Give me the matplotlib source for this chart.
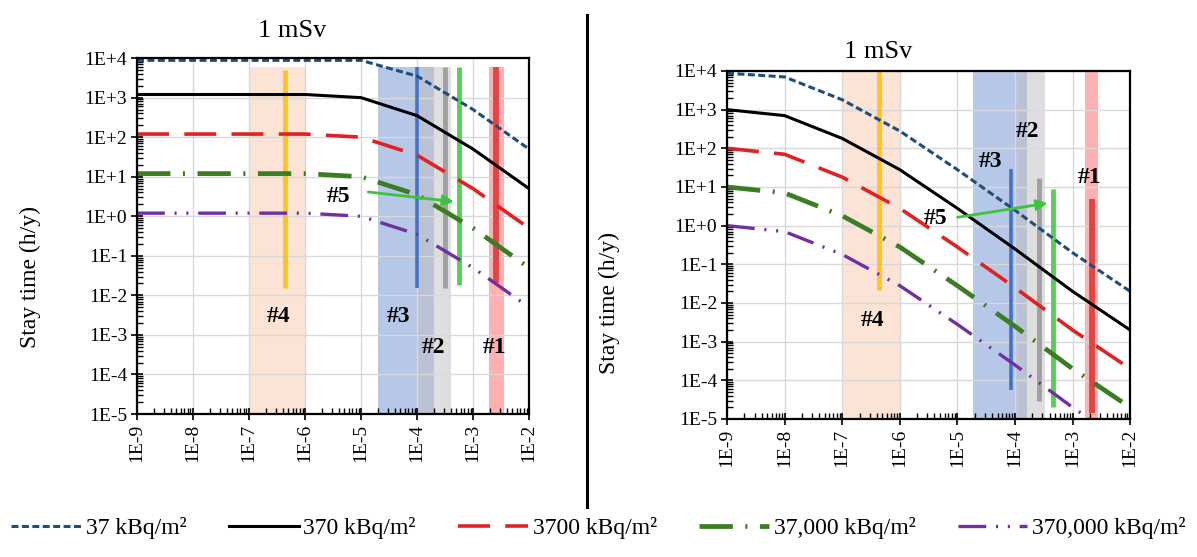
import matplotlib
matplotlib.use("Agg")
import matplotlib.pyplot as plt
import numpy as np
from matplotlib.lines import Line2D
from matplotlib.ticker import FixedLocator, LogLocator, NullFormatter

plt.rcParams["font.family"] = ["Liberation Serif", "DejaVu Serif"]
plt.rcParams["lines.scale_dashes"] = False

# dose-rate axis (decades) shared by both panels
DOSE_RATE = [1e-9, 1e-8, 1e-7, 1e-6, 1e-5, 1e-4, 1e-3, 1e-2]
SERIES_LABELS = ["37 kBq/m²", "370 kBq/m²", "3700 kBq/m²", "37,000 kBq/m²", "370,000 kBq/m²"]

# left panel, stay time (h/y)
LEFT_37 = [8760, 8760, 8760, 8760, 8760, 3500, 500, 50]
LEFT_370 = [1200, 1200, 1200, 1200, 1000, 350, 50, 5]
LEFT_3700 = [120, 120, 120, 120, 100, 35, 5, 0.5]
LEFT_37000 = [12, 12, 12, 12, 10, 3.5, 0.5, 0.05]
LEFT_370000 = [1.2, 1.2, 1.2, 1.2, 1.0, 0.35, 0.05, 0.005]

# right panel, stay time (h/y)
RIGHT_37 = [8760, 7000, 1800, 280, 28, 2.5, 0.2, 0.02]
RIGHT_370 = [1000, 700, 180, 28, 2.8, 0.25, 0.02, 0.002]
RIGHT_3700 = [100, 70, 18, 2.8, 0.28, 0.025, 0.002, 0.0002]
RIGHT_37000 = [10, 7, 1.8, 0.28, 0.028, 0.0025, 0.0002, 0.00002]
RIGHT_370000 = [1, 0.7, 0.18, 0.028, 0.0028, 0.00025, 0.00002, 0.000002]

# site ranges (x from, x to) and site values (x, y low, y high)
BAND_NAMES = ["#4", "#3", "#2", "#1"]
LEFT_BANDS = [(1e-7, 1e-6), (2.0e-5, 2.0e-4), (1e-4, 4.0e-4), (1.95e-3, 3.5e-3)]
RIGHT_BANDS = [(1e-7, 1e-6), (1.9e-5, 1.65e-4), (1e-4, 3.3e-4), (1.66e-3, 2.75e-3)]
LEFT_BAND_TOP = 6e3
RIGHT_BAND_TOP = 1e4

MARK_NAMES = ["#4", "#3", "#2", "#5", "#1"]
LEFT_MARKS = [(4.3e-7, 1.5e-2, 5e3), (1e-4, 1.5e-2, 6e3), (3.1e-4, 1.5e-2, 6e3),
              (5.5e-4, 1.8e-2, 6e3), (2.6e-3, 2e-2, 6e3)]
RIGHT_MARKS = [(4.4e-7, 2.2e-2, 1e4), (8.7e-5, 5.7e-5, 30), (2.6e-4, 3e-5, 17),
               (4.6e-4, 2e-5, 9), (2.2e-3, 1.4e-5, 5)]

LABEL_NAMES = ["#4", "#3", "#2", "#1", "#5"]
LEFT_LABEL_XY = [(3.4e-7, 2.9e-3), (4.6e-5, 2.9e-3), (1.95e-4, 4.7e-4), (2.45e-3, 4.7e-4), (4e-6, 3.2)]
RIGHT_LABEL_XY = [(3.3e-7, 3.6e-3), (3.8e-5, 45), (1.66e-4, 270), (2.0e-3, 18), (4.1e-6, 1.55)]

LEFT_ARROW = [(1.2e-5, 4.2), (5.1e-4, 2.3)]
RIGHT_ARROW = [(9e-6, 1.6), (4.1e-4, 3.9)]

SERIES_STYLES = [
    dict(color="#1f4e79", lw=2.2, ls=(0, (5, 2.5))),
    dict(color="black", lw=2.2, ls="-"),
    dict(color="#e02222", lw=2.6, ls=(0, (23, 11))),
    dict(color="#3b7d23", lw=3.4, ls=(0, (24, 9, 1.5, 9))),
    dict(color="#7030a0", lw=2.4, ls=(0, (20, 7, 1.5, 7, 1.5, 7))),
]
BAND_STYLES = {
    "#4": dict(color="#f8cbad", alpha=0.5),
    "#3": dict(color="#8faadc", alpha=0.65),
    "#2": dict(color="#bfbfbf", alpha=0.5),
    "#1": dict(color="#ff6f6f", alpha=0.55),
}
MARK_STYLES = {
    "#4": dict(color="#ffc000", lw=3.5, alpha=0.85),
    "#3": dict(color="#4472c4", lw=2.6),
    "#2": dict(color="#a0a0a0", lw=3.5),
    "#5": dict(color="#55d055", lw=3.5),
    "#1": dict(color="#e04545", lw=4.2),
}


def draw_panel(ax, curves, bands, band_top, marks, label_xy, arrow):
    for name, (x0, x1) in zip(BAND_NAMES, bands):
        ax.fill_betweenx([1e-5, band_top], x0, x1, lw=0, zorder=0.3, **BAND_STYLES[name])
    for name, (x, y0, y1) in zip(MARK_NAMES, marks):
        ax.plot([x, x], [y0, y1], zorder=1, solid_capstyle="butt", **MARK_STYLES[name])
    for values, style in zip(curves, SERIES_STYLES):
        ax.plot(DOSE_RATE, values, zorder=3, **style)
    for name, (x, y) in zip(LABEL_NAMES, label_xy):
        ax.text(x, y, name, fontsize=17, fontweight="bold", ha="center", va="center", zorder=5)
    ax.annotate("", xy=arrow[1], xytext=arrow[0], zorder=4,
                arrowprops=dict(arrowstyle="-|>", color="#3cc43c", lw=2, mutation_scale=16))

    ax.set_xscale("log")
    ax.set_yscale("log")
    ax.set_xlim(1e-9, 1e-2)
    ax.set_ylim(1e-5, 1e4)
    ax.xaxis.set_major_locator(FixedLocator(DOSE_RATE))
    ax.set_xticklabels([f"1E{int(np.log10(v))}" for v in DOSE_RATE], rotation=90, fontsize=14)
    yt = [10.0 ** e for e in range(-5, 5)]
    ax.yaxis.set_major_locator(FixedLocator(yt))
    ax.set_yticklabels([f"1E{e:+d}" for e in range(-5, 5)], fontsize=14)
    for axis in (ax.xaxis, ax.yaxis):
        axis.set_minor_locator(LogLocator(base=10, subs=range(2, 10), numticks=30))
        axis.set_minor_formatter(NullFormatter())
    ax.tick_params(which="major", direction="inout", length=8, width=1.2, pad=3)
    ax.tick_params(which="minor", direction="in", length=4, width=1)
    ax.set_axisbelow(True)
    ax.grid(True, which="major", color="#d9d9d9", lw=1)
    for spine in ax.spines.values():
        spine.set_linewidth(1.6)
        spine.set_color("black")
        spine.set_zorder(6)
    ax.set_ylabel("Stay time (h/y)", fontsize=17)


fig = plt.figure(figsize=(11.97, 5.57), dpi=100)
ax_left = fig.add_axes([0.1145, 0.2567, 0.3275, 0.639])
ax_right = fig.add_axes([0.6074, 0.2478, 0.3367, 0.6248])

draw_panel(ax_left, [LEFT_37, LEFT_370, LEFT_3700, LEFT_37000, LEFT_370000],
           LEFT_BANDS, LEFT_BAND_TOP, LEFT_MARKS, LEFT_LABEL_XY, LEFT_ARROW)
draw_panel(ax_right, [RIGHT_37, RIGHT_370, RIGHT_3700, RIGHT_37000, RIGHT_370000],
           RIGHT_BANDS, RIGHT_BAND_TOP, RIGHT_MARKS, RIGHT_LABEL_XY, RIGHT_ARROW)
ax_left.yaxis.set_label_coords(-0.245, 0.385)
ax_right.yaxis.set_label_coords(-0.265, 0.333)

fig.text(0.244, 0.945, "1 mSv", fontsize=19, ha="center", va="center")
fig.text(0.734, 0.906, "1 mSv", fontsize=19, ha="center", va="center")

# divider between the two panels
fig.add_artist(Line2D([587 / 1197, 587 / 1197], [1 - 15 / 557, 1 - 507 / 557], color="black", lw=2.2))

handles = [Line2D([], [], **style) for style in SERIES_STYLES]
fig.legend(handles, SERIES_LABELS, loc="center", bbox_to_anchor=(0.5, 0.052), ncol=5,
           frameon=False, fontsize=17, handlelength=2.95, handletextpad=0.2, columnspacing=1.8)

fig.savefig("out.png", dpi=100)
plt.close(fig)
